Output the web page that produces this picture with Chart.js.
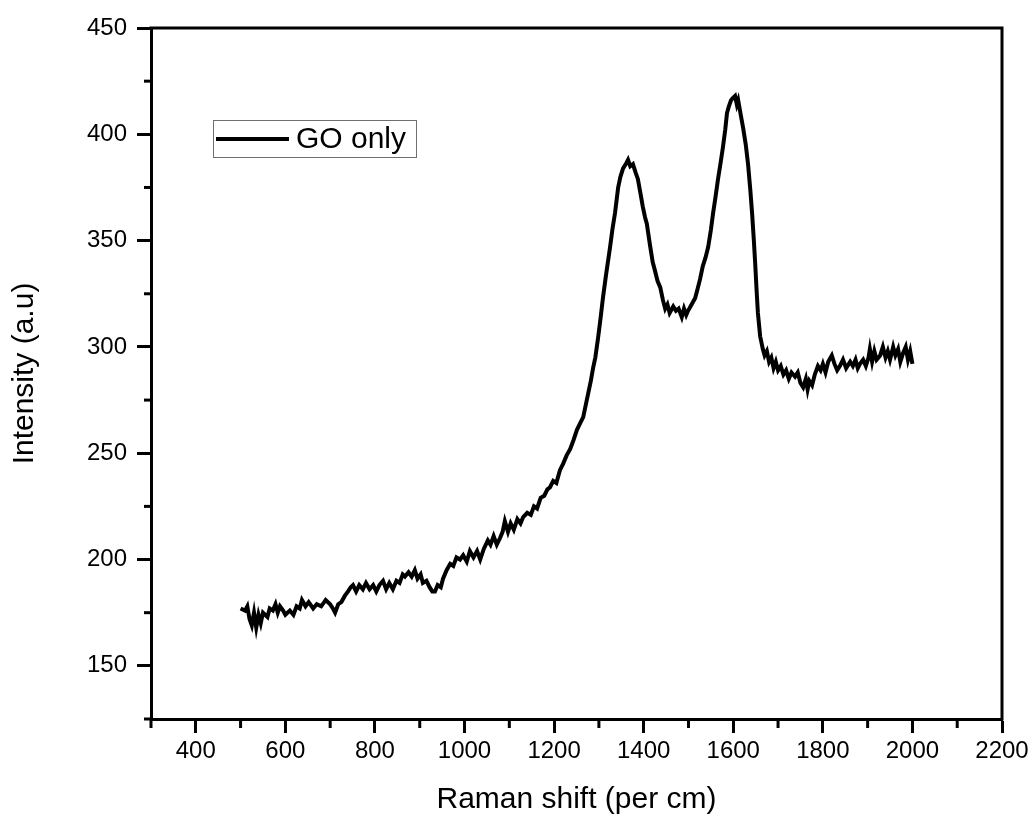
<!DOCTYPE html>
<html>
<head>
<meta charset="utf-8">
<script src="https://cdn.jsdelivr.net/npm/chart.js@4.4.1/dist/chart.umd.min.js"></script>
<style>
  html, body { margin: 0; padding: 0; background: #fff; }
  #wrap { width: 1034px; height: 823px; }
</style>
</head>
<body>
<div id="wrap"><canvas id="c" width="1034" height="823"></canvas></div>
<script>
// ---- Data ----
const ramanShift = [500,510,515,520,525,530,535,540,545,550,560,565,572,578,583,588,595,600,610,618,625,632,637,645,652,662,670,680,690,700,706,711,718,725,733,740,746,751,758,765,773,780,788,796,803,810,818,825,832,840,848,855,862,867,875,882,889,895,902,907,915,922,928,934,940,947,952,960,968,975,982,990,997,1005,1012,1020,1028,1035,1043,1052,1058,1065,1072,1079,1085,1090,1097,1103,1110,1118,1125,1131,1140,1148,1155,1162,1170,1178,1185,1191,1198,1205,1213,1220,1228,1236,1243,1251,1258,1265,1270,1276,1282,1287,1292,1298,1304,1309,1316,1325,1330,1336,1343,1348,1354,1360,1365,1370,1376,1382,1387,1393,1398,1403,1407,1414,1420,1425,1431,1437,1443,1448,1453,1458,1466,1472,1478,1485,1490,1495,1499,1507,1515,1520,1526,1532,1538,1544,1550,1555,1560,1566,1572,1577,1582,1586,1590,1595,1599,1604,1608,1611,1616,1622,1628,1633,1638,1642,1646,1649,1652,1655,1660,1666,1670,1675,1680,1685,1690,1695,1700,1706,1712,1718,1724,1730,1738,1744,1750,1756,1762,1766,1770,1776,1782,1789,1795,1800,1806,1812,1820,1826,1832,1838,1845,1852,1861,1867,1873,1878,1883,1890,1896,1902,1905,1910,1915,1920,1928,1934,1940,1945,1950,1957,1962,1968,1973,1979,1985,1990,1995,2000];
const intensity = [177,176,178,172,169,175,168,174,170,175,173,177,176,179,175,178,176,174,176,174,178,177,181,178,180,177,179,178,181,179,177,175,179,180,183,185,187,188,185,188,186,189,186,188,185,188,190,186,189,186,190,189,193,192,194,192,195,191,193,189,190,187,185,185,188,187,191,195,198,197,201,200,202,199,204,201,204,200,205,209,207,211,207,210,213,218,213,217,214,219,217,220,222,221,225,224,229,230,233,234,237,236,242,245,249,252,256,261,264,267,272,278,284,290,295,304,314,323,334,347,355,363,375,380,384,386,388,385,386,382,379,372,366,361,358,348,340,336,331,328,322,318,320,316,319,317,318,314,318,315,317,320,323,327,332,338,342,347,355,363,370,379,387,394,402,410,413,416,417,418,414,416,410,403,395,386,374,363,350,339,327,316,305,299,296,298,293,295,290,293,289,291,287,289,285,288,286,288,283,281,285,280,284,282,287,291,289,292,288,293,296,292,289,291,294,290,293,291,294,290,292,294,291,295,299,293,298,294,296,300,295,298,294,300,296,299,293,297,300,294,298,292];
const seriesName = "GO only";
const xMajorTicks = [400,600,800,1000,1200,1400,1600,1800,2000,2200];
const xMinorTicks = [300,500,700,900,1100,1300,1500,1700,1900,2100];
const yMajorTicks = [150,200,250,300,350,400,450];
const yMinorTicks = [125,175,225,275,325,375,425];
const xTitle = "Raman shift (per cm)";
const yTitle = "Intensity (a.u)";

const FONT = "'Liberation Sans', Arial, sans-serif";

const points = ramanShift.map((x, i) => ({ x: x, y: intensity[i] }));

const framePlugin = {
  id: 'frame',
  afterDraw(chart) {
    const ctx = chart.ctx;
    const a = chart.chartArea;
    const xs = chart.scales.x, ys = chart.scales.y;
    ctx.save();
    ctx.strokeStyle = '#000';
    ctx.lineWidth = 3;
    // top and right frame lines
    ctx.beginPath();
    ctx.moveTo(a.left - 1.5, a.top);
    ctx.lineTo(a.right, a.top);
    ctx.lineTo(a.right, a.bottom + 1.5);
    ctx.stroke();
    // minor ticks
    xMinorTicks.forEach(v => {
      const px = xs.getPixelForValue(v);
      ctx.beginPath();
      ctx.moveTo(px, a.bottom);
      ctx.lineTo(px, a.bottom + 9);
      ctx.stroke();
    });
    yMinorTicks.forEach(v => {
      const py = ys.getPixelForValue(v);
      ctx.beginPath();
      ctx.moveTo(a.left, py);
      ctx.lineTo(a.left - 7, py);
      ctx.stroke();
    });
    // legend box
    const bx = 213, by = 120, bw = 203, bh = 37;
    ctx.lineWidth = 1;
    ctx.strokeStyle = '#6f6f6f';
    ctx.strokeRect(bx + 0.5, by + 0.5, bw, bh);
    const ds = chart.data.datasets[0];
    ctx.strokeStyle = ds.borderColor;
    ctx.lineWidth = 4;
    ctx.beginPath();
    ctx.moveTo(bx + 3, by + 19);
    ctx.lineTo(bx + 76, by + 19);
    ctx.stroke();
    ctx.fillStyle = '#000';
    ctx.font = "30px " + FONT;
    ctx.textBaseline = 'middle';
    ctx.textAlign = 'left';
    ctx.fillText(ds.label, bx + 83, by + 20);
    ctx.restore();
  }
};

new Chart(document.getElementById('c'), {
  type: 'line',
  data: {
    datasets: [{
      label: seriesName,
      data: points,
      borderColor: '#000',
      borderWidth: 4,
      pointRadius: 0,
      tension: 0,
      fill: false
    }]
  },
  options: {
    responsive: false,
    animation: false,
    devicePixelRatio: 1,
    layout: { padding: { top: 28, right: 32, bottom: 0, left: 0 } },
    plugins: { legend: { display: false }, tooltip: { enabled: false } },
    scales: {
      x: {
        type: 'linear',
        min: 300, max: 2200,
        afterFit: s => { s.height = 104; },
        afterBuildTicks: s => { s.ticks = xMajorTicks.map(v => ({ value: v })); },
        grid: { drawOnChartArea: false, drawTicks: true, tickLength: 14, tickWidth: 3, tickColor: '#000' },
        border: { display: true, width: 3, color: '#000' },
        ticks: { color: '#000', font: { family: FONT, size: 24 }, padding: 4, maxRotation: 0, autoSkip: false,
                 callback: v => String(v) },
        title: { display: true, text: xTitle, color: '#000', font: { family: FONT, size: 30 }, padding: { top: 0, bottom: 5 } }
      },
      y: {
        type: 'linear',
        min: 125, max: 450,
        afterFit: s => { s.width = 151; },
        afterBuildTicks: s => { s.ticks = yMajorTicks.map(v => ({ value: v })); },
        grid: { drawOnChartArea: false, drawTicks: true, tickLength: 14, tickWidth: 3, tickColor: '#000' },
        border: { display: true, width: 3, color: '#000' },
        ticks: { color: '#000', font: { family: FONT, size: 24 }, padding: 10, autoSkip: false,
                 callback: v => String(v) },
        title: { display: true, text: yTitle, color: '#000', font: { family: FONT, size: 30 }, padding: { top: 7, bottom: 0 } }
      }
    }
  },
  plugins: [framePlugin]
});
</script>
</body>
</html>
